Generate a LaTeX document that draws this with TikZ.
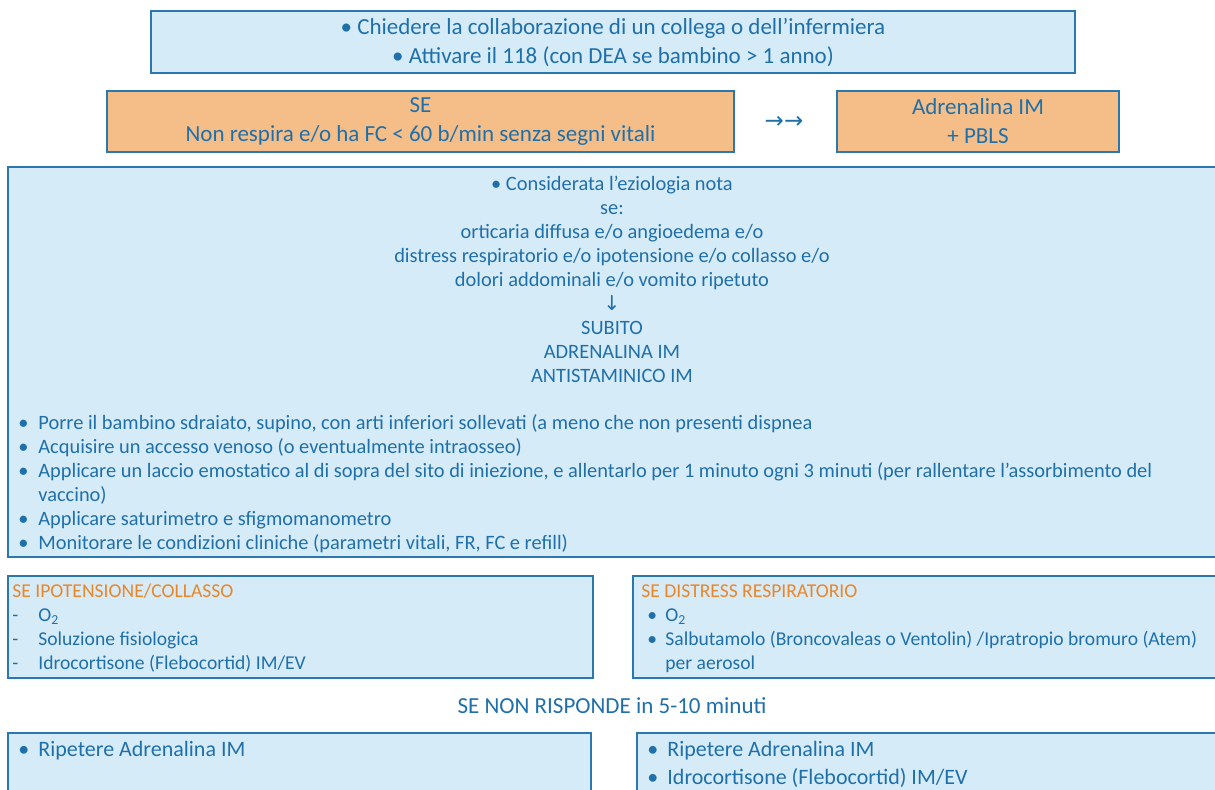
\documentclass[tikz,border=0pt]{standalone}
\usepackage{fontspec}
\setmainfont{Carlito}
\newfontfamily\arrowfont{DejaVu Sans}
\usepackage{tikz}
\usetikzlibrary{
	positioning
}
\definecolor{boxfill}{HTML}{D6EBF8}
\definecolor{boxline}{HTML}{2A78AE}
\definecolor{inkblue}{HTML}{1F70AA}
\definecolor{alertfill}{HTML}{F5BE88}
\definecolor{alertink}{HTML}{E9862A}
\tikzset{
	infobox/.style={draw=boxline, fill=boxfill, line width=1pt},
	alertbox/.style={draw=boxline, fill=alertfill, line width=1pt},
	bigtext/.style={text=inkblue, font=\fontsize{11.5}{14.5}\selectfont, align=center},
	smalltext/.style={text=inkblue, font=\fontsize{10.2}{12}\selectfont, align=center},
	listtext/.style={text=inkblue, font=\fontsize{10.2}{12}\selectfont, anchor=north west, inner sep=0pt, align=left},
	sidelist/.style={listtext, font=\fontsize{9.8}{12}\selectfont},
	biglist/.style={listtext, font=\fontsize{11}{14}\selectfont}
}

\begin{document}
\begin{tikzpicture}[x=0.5pt, y=-0.5pt]
		\path[use as bounding box, clip] (0,0) rectangle (1215,789);
		\draw
			node[infobox, bigtext, minimum width=462pt, minimum height=31pt] (help) at (613,42)
				{• Chiedere la collaborazione di un collega o dell’infermiera\\• Attivare il 118 (con DEA se bambino > 1 anno)}
			node[alertbox, bigtext, minimum width=313.5pt, minimum height=30.5pt] (arrest) at (420.5,121.5)
				{SE\\Non respira e/o ha FC < 60 b/min senza segni vitali}
			node[text=inkblue] (then) at (784,122) {\arrowfont\fontsize{11.5}{11.5}\selectfont →→}
			node[alertbox, bigtext, minimum width=141pt, minimum height=30.5pt] (pbls) at (978,121.5)
				{Adrenalina IM\\+ PBLS}

			node[infobox, minimum width=605pt, minimum height=195pt] (acute) at (613,362) {}
			node[smalltext, anchor=north, inner sep=0pt] (criteria) at (612,176)
				{• Considerata l’eziologia nota\\se:\\orticaria diffusa e/o angioedema e/o\\
				distress respiratorio e/o ipotensione e/o collasso e/o\\dolori addominali e/o vomito ripetuto\\
				{\arrowfont ↓}\\SUBITO\\ADRENALINA IM\\ANTISTAMINICO IM}
			node[listtext] (measures) at (18,412)
				{\begin{tabular}{@{}p{10pt}@{}l@{}}
				• & Porre il bambino sdraiato, supino, con arti inferiori sollevati (a meno che non presenti dispnea\\
				• & Acquisire un accesso venoso (o eventualmente intraosseo)\\
				• & Applicare un laccio emostatico al di sopra del sito di iniezione, e allentarlo per 1 minuto ogni 3 minuti (per rallentare l’assorbimento del\\
				  & vaccino)\\
				• & Applicare saturimetro e sfigmomanometro\\
				• & Monitorare le condizioni cliniche (parametri vitali, FR, FC e refill)
				\end{tabular}}

			node[infobox, minimum width=292.5pt, minimum height=51pt] (shock) at (300.5,627) {}
			node[sidelist] (shocklist) at (12,580)
				{\begin{tabular}{@{}p{13pt}@{}l@{}}
				\multicolumn{2}{@{}l@{}}{\textcolor{alertink}{SE IPOTENSIONE/COLLASSO}}\\
				- & O\textsubscript{2}\\
				- & Soluzione fisiologica\\
				- & Idrocortisone (Flebocortid) IM/EV
				\end{tabular}}
			node[infobox, minimum width=292.5pt, minimum height=51pt] (distress) at (925.5,627) {}
			node[sidelist] (distresslist) at (641,580)
				{\begin{tabular}{@{}p{12pt}@{}l@{}}
				\multicolumn{2}{@{}l@{}}{\textcolor{alertink}{SE DISTRESS RESPIRATORIO}}\\
				\hspace{3pt}• & O\textsubscript{2}\\
				\hspace{3pt}• & Salbutamolo (Broncovaleas o Ventolin) /Ipratropio bromuro (Atem)\\
				  & per aerosol
				\end{tabular}}

			node[bigtext] (noresponse) at (612,706) {SE NON RISPONDE in 5-10 minuti}

			node[infobox, minimum width=291.5pt, minimum height=34pt] (repeatleft) at (299.5,767) {}
			node[biglist] (repeatleftlist) at (18,736)
				{\begin{tabular}{@{}p{10pt}@{}l@{}}
				• & Ripetere Adrenalina IM
				\end{tabular}}
			node[infobox, minimum width=290.5pt, minimum height=34pt] (repeatright) at (927.5,767) {}
			node[biglist] (repeatrightlist) at (647,736)
				{\begin{tabular}{@{}p{10pt}@{}l@{}}
				• & Ripetere Adrenalina IM\\
				• & Idrocortisone (Flebocortid) IM/EV
				\end{tabular}}
		;
	\end{tikzpicture}
\end{document}
